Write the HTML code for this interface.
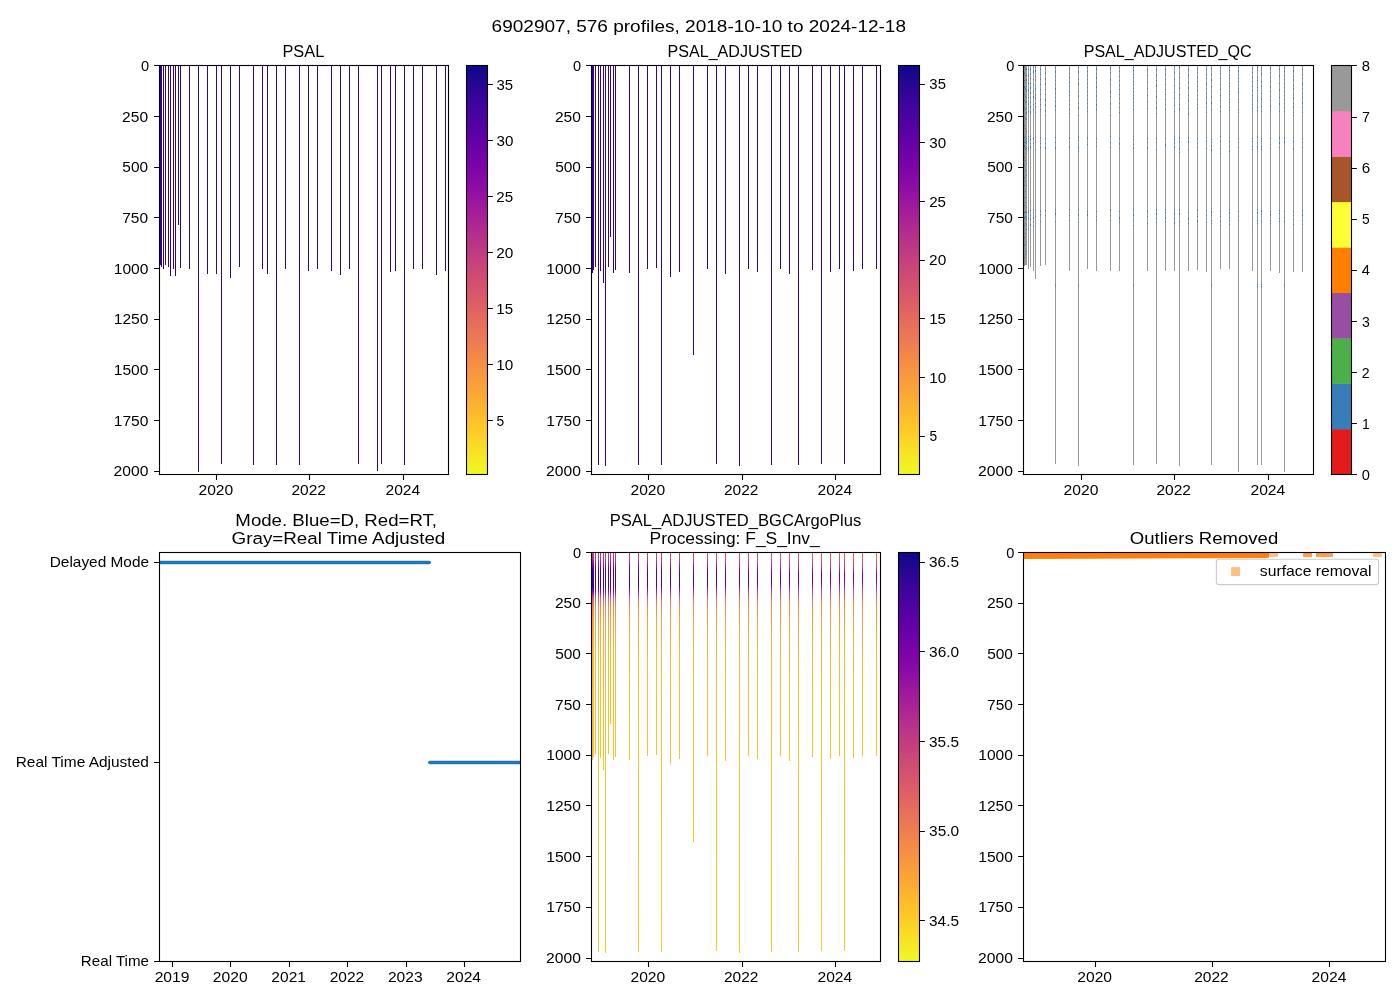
<!DOCTYPE html>
<html><head><meta charset="utf-8"><title>6902907 PSAL</title>
<style>html,body{margin:0;padding:0;background:#fff}svg{display:block;will-change:transform}</style></head>
<body>
<svg width="1400" height="1000" viewBox="0 0 1400 1000" font-family="'Liberation Sans', sans-serif" fill="#000">
<defs>
<linearGradient id="pl" x1="0" y1="0" x2="0" y2="1"><stop offset="0.00" stop-color="#0d0887"/><stop offset="0.05" stop-color="#2a0593"/><stop offset="0.10" stop-color="#41049d"/><stop offset="0.15" stop-color="#5601a4"/><stop offset="0.20" stop-color="#6a00a8"/><stop offset="0.25" stop-color="#7e03a8"/><stop offset="0.30" stop-color="#8f0da4"/><stop offset="0.35" stop-color="#a11b9b"/><stop offset="0.40" stop-color="#b12a90"/><stop offset="0.45" stop-color="#bf3984"/><stop offset="0.50" stop-color="#cc4778"/><stop offset="0.55" stop-color="#d6556d"/><stop offset="0.60" stop-color="#e16462"/><stop offset="0.65" stop-color="#ea7457"/><stop offset="0.70" stop-color="#f2844b"/><stop offset="0.75" stop-color="#f89540"/><stop offset="0.80" stop-color="#fca636"/><stop offset="0.85" stop-color="#feba2c"/><stop offset="0.90" stop-color="#fcce25"/><stop offset="0.95" stop-color="#f7e425"/><stop offset="1.00" stop-color="#f0f921"/></linearGradient>
<linearGradient id="g0" gradientUnits="userSpaceOnUse" x1="0" y1="552.5" x2="0" y2="961.5"><stop offset="0.0000" stop-color="#c43e7f"/><stop offset="0.0159" stop-color="#b6308b"/><stop offset="0.0306" stop-color="#8808a6"/><stop offset="0.0453" stop-color="#41049d"/><stop offset="0.0843" stop-color="#38049a"/><stop offset="0.0965" stop-color="#8f0da4"/><stop offset="0.1075" stop-color="#cc4778"/><stop offset="0.1210" stop-color="#e87059"/><stop offset="0.1357" stop-color="#f58b47"/><stop offset="0.1650" stop-color="#fb9f3a"/><stop offset="0.2384" stop-color="#feb72d"/><stop offset="0.3606" stop-color="#fec029"/><stop offset="1.0000" stop-color="#fdc527"/></linearGradient>
<linearGradient id="g1" gradientUnits="userSpaceOnUse" x1="0" y1="552.5" x2="0" y2="961.5"><stop offset="0.0000" stop-color="#c43e7f"/><stop offset="0.0160" stop-color="#b6308b"/><stop offset="0.0306" stop-color="#8808a6"/><stop offset="0.0453" stop-color="#41049d"/><stop offset="0.0842" stop-color="#38049a"/><stop offset="0.0965" stop-color="#8f0da4"/><stop offset="0.1075" stop-color="#cc4778"/><stop offset="0.1209" stop-color="#e87059"/><stop offset="0.1356" stop-color="#f58b47"/><stop offset="0.1650" stop-color="#fb9f3a"/><stop offset="0.2384" stop-color="#feb72d"/><stop offset="0.3606" stop-color="#fec029"/><stop offset="1.0000" stop-color="#fdc527"/></linearGradient>
<linearGradient id="g2" gradientUnits="userSpaceOnUse" x1="0" y1="552.5" x2="0" y2="961.5"><stop offset="0.0000" stop-color="#c43e7f"/><stop offset="0.0161" stop-color="#b6308b"/><stop offset="0.0307" stop-color="#8a09a5"/><stop offset="0.0453" stop-color="#43039e"/><stop offset="0.0841" stop-color="#3a049a"/><stop offset="0.0963" stop-color="#910ea3"/><stop offset="0.1074" stop-color="#cc4778"/><stop offset="0.1209" stop-color="#e87059"/><stop offset="0.1356" stop-color="#f58b47"/><stop offset="0.1650" stop-color="#fb9f3a"/><stop offset="0.2384" stop-color="#feb72d"/><stop offset="0.3606" stop-color="#fec029"/><stop offset="1.0000" stop-color="#fdc527"/></linearGradient>
<linearGradient id="g3" gradientUnits="userSpaceOnUse" x1="0" y1="552.5" x2="0" y2="961.5"><stop offset="0.0000" stop-color="#c5407e"/><stop offset="0.0162" stop-color="#b7318a"/><stop offset="0.0309" stop-color="#8a09a5"/><stop offset="0.0454" stop-color="#43039e"/><stop offset="0.0839" stop-color="#3a049a"/><stop offset="0.0962" stop-color="#910ea3"/><stop offset="0.1072" stop-color="#cc4778"/><stop offset="0.1207" stop-color="#e87059"/><stop offset="0.1355" stop-color="#f58b47"/><stop offset="0.1650" stop-color="#fb9f3a"/><stop offset="0.2384" stop-color="#feb72d"/><stop offset="0.3606" stop-color="#fec029"/><stop offset="1.0000" stop-color="#fdc527"/></linearGradient>
<linearGradient id="g4" gradientUnits="userSpaceOnUse" x1="0" y1="552.5" x2="0" y2="961.5"><stop offset="0.0000" stop-color="#c5407e"/><stop offset="0.0163" stop-color="#b7318a"/><stop offset="0.0309" stop-color="#8a09a5"/><stop offset="0.0455" stop-color="#43039e"/><stop offset="0.0837" stop-color="#3a049a"/><stop offset="0.0960" stop-color="#910ea3"/><stop offset="0.1071" stop-color="#cc4778"/><stop offset="0.1206" stop-color="#e87059"/><stop offset="0.1355" stop-color="#f58b47"/><stop offset="0.1650" stop-color="#fb9f3a"/><stop offset="0.2384" stop-color="#feb72d"/><stop offset="0.3606" stop-color="#fec029"/><stop offset="1.0000" stop-color="#fdc527"/></linearGradient>
<linearGradient id="g5" gradientUnits="userSpaceOnUse" x1="0" y1="552.5" x2="0" y2="961.5"><stop offset="0.0000" stop-color="#c6417d"/><stop offset="0.0164" stop-color="#b7318a"/><stop offset="0.0311" stop-color="#8a09a5"/><stop offset="0.0455" stop-color="#44039e"/><stop offset="0.0835" stop-color="#3c049b"/><stop offset="0.0959" stop-color="#910ea3"/><stop offset="0.1070" stop-color="#cc4778"/><stop offset="0.1205" stop-color="#e87059"/><stop offset="0.1354" stop-color="#f58b47"/><stop offset="0.1650" stop-color="#fb9f3a"/><stop offset="0.2384" stop-color="#feb72d"/><stop offset="0.3606" stop-color="#fec029"/><stop offset="1.0000" stop-color="#fdc527"/></linearGradient>
<linearGradient id="g6" gradientUnits="userSpaceOnUse" x1="0" y1="552.5" x2="0" y2="961.5"><stop offset="0.0000" stop-color="#c6417d"/><stop offset="0.0165" stop-color="#b83289"/><stop offset="0.0312" stop-color="#8b0aa5"/><stop offset="0.0456" stop-color="#44039e"/><stop offset="0.0834" stop-color="#3c049b"/><stop offset="0.0957" stop-color="#910ea3"/><stop offset="0.1069" stop-color="#cc4778"/><stop offset="0.1204" stop-color="#e87059"/><stop offset="0.1353" stop-color="#f58b47"/><stop offset="0.1650" stop-color="#fb9f3a"/><stop offset="0.2384" stop-color="#feb72d"/><stop offset="0.3606" stop-color="#fec029"/><stop offset="1.0000" stop-color="#fdc527"/></linearGradient>
<linearGradient id="g7" gradientUnits="userSpaceOnUse" x1="0" y1="552.5" x2="0" y2="961.5"><stop offset="0.0000" stop-color="#c6417d"/><stop offset="0.0166" stop-color="#b83289"/><stop offset="0.0313" stop-color="#8b0aa5"/><stop offset="0.0457" stop-color="#44039e"/><stop offset="0.0832" stop-color="#3c049b"/><stop offset="0.0956" stop-color="#920fa3"/><stop offset="0.1067" stop-color="#cc4778"/><stop offset="0.1203" stop-color="#e87059"/><stop offset="0.1353" stop-color="#f58b47"/><stop offset="0.1650" stop-color="#fb9f3a"/><stop offset="0.2384" stop-color="#feb72d"/><stop offset="0.3606" stop-color="#fec029"/><stop offset="1.0000" stop-color="#fdc527"/></linearGradient>
<linearGradient id="g8" gradientUnits="userSpaceOnUse" x1="0" y1="552.5" x2="0" y2="961.5"><stop offset="0.0000" stop-color="#c7427c"/><stop offset="0.0167" stop-color="#b83289"/><stop offset="0.0314" stop-color="#8b0aa5"/><stop offset="0.0457" stop-color="#44039e"/><stop offset="0.0831" stop-color="#3e049c"/><stop offset="0.0955" stop-color="#920fa3"/><stop offset="0.1066" stop-color="#cc4778"/><stop offset="0.1202" stop-color="#e87059"/><stop offset="0.1352" stop-color="#f58b47"/><stop offset="0.1650" stop-color="#fb9f3a"/><stop offset="0.2384" stop-color="#feb72d"/><stop offset="0.3606" stop-color="#fec029"/><stop offset="1.0000" stop-color="#fdc527"/></linearGradient>
<linearGradient id="g9" gradientUnits="userSpaceOnUse" x1="0" y1="552.5" x2="0" y2="961.5"><stop offset="0.0000" stop-color="#c7427c"/><stop offset="0.0168" stop-color="#b83289"/><stop offset="0.0315" stop-color="#8d0ba5"/><stop offset="0.0458" stop-color="#46039f"/><stop offset="0.0829" stop-color="#3e049c"/><stop offset="0.0953" stop-color="#920fa3"/><stop offset="0.1065" stop-color="#cc4778"/><stop offset="0.1201" stop-color="#e87059"/><stop offset="0.1351" stop-color="#f58b47"/><stop offset="0.1650" stop-color="#fb9f3a"/><stop offset="0.2384" stop-color="#feb72d"/><stop offset="0.3606" stop-color="#fec029"/><stop offset="1.0000" stop-color="#fdc527"/></linearGradient>
<linearGradient id="g10" gradientUnits="userSpaceOnUse" x1="0" y1="552.5" x2="0" y2="961.5"><stop offset="0.0000" stop-color="#c7427c"/><stop offset="0.0169" stop-color="#ba3388"/><stop offset="0.0316" stop-color="#8d0ba5"/><stop offset="0.0458" stop-color="#46039f"/><stop offset="0.0827" stop-color="#3e049c"/><stop offset="0.0952" stop-color="#920fa3"/><stop offset="0.1064" stop-color="#cc4778"/><stop offset="0.1200" stop-color="#e87059"/><stop offset="0.1351" stop-color="#f58b47"/><stop offset="0.1650" stop-color="#fb9f3a"/><stop offset="0.2384" stop-color="#feb72d"/><stop offset="0.3606" stop-color="#fec029"/><stop offset="1.0000" stop-color="#fdc527"/></linearGradient>
<linearGradient id="g11" gradientUnits="userSpaceOnUse" x1="0" y1="552.5" x2="0" y2="961.5"><stop offset="0.0000" stop-color="#ca457a"/><stop offset="0.0175" stop-color="#bb3488"/><stop offset="0.0322" stop-color="#8e0ca4"/><stop offset="0.0462" stop-color="#4903a0"/><stop offset="0.0818" stop-color="#41049d"/><stop offset="0.0943" stop-color="#9410a2"/><stop offset="0.1057" stop-color="#cc4778"/><stop offset="0.1194" stop-color="#e87059"/><stop offset="0.1347" stop-color="#f58b47"/><stop offset="0.1650" stop-color="#fb9f3a"/><stop offset="0.2384" stop-color="#feb72d"/><stop offset="0.3606" stop-color="#fec029"/><stop offset="1.0000" stop-color="#fdc527"/></linearGradient>
<linearGradient id="g12" gradientUnits="userSpaceOnUse" x1="0" y1="552.5" x2="0" y2="961.5"><stop offset="0.0000" stop-color="#cb4679"/><stop offset="0.0179" stop-color="#bc3587"/><stop offset="0.0326" stop-color="#8f0da4"/><stop offset="0.0464" stop-color="#4b03a1"/><stop offset="0.0812" stop-color="#44039e"/><stop offset="0.0938" stop-color="#9511a1"/><stop offset="0.1052" stop-color="#cc4778"/><stop offset="0.1190" stop-color="#e87059"/><stop offset="0.1345" stop-color="#f58b47"/><stop offset="0.1650" stop-color="#fb9f3a"/><stop offset="0.2384" stop-color="#feb72d"/><stop offset="0.3606" stop-color="#fec029"/><stop offset="1.0000" stop-color="#fdc527"/></linearGradient>
<linearGradient id="g13" gradientUnits="userSpaceOnUse" x1="0" y1="552.5" x2="0" y2="961.5"><stop offset="0.0000" stop-color="#cc4778"/><stop offset="0.0183" stop-color="#bd3786"/><stop offset="0.0329" stop-color="#910ea3"/><stop offset="0.0467" stop-color="#4c02a1"/><stop offset="0.0806" stop-color="#46039f"/><stop offset="0.0933" stop-color="#9511a1"/><stop offset="0.1047" stop-color="#cc4778"/><stop offset="0.1187" stop-color="#e87059"/><stop offset="0.1343" stop-color="#f58b47"/><stop offset="0.1650" stop-color="#fb9f3a"/><stop offset="0.2384" stop-color="#feb72d"/><stop offset="0.3606" stop-color="#fec029"/><stop offset="1.0000" stop-color="#fdc527"/></linearGradient>
<linearGradient id="g14" gradientUnits="userSpaceOnUse" x1="0" y1="552.5" x2="0" y2="961.5"><stop offset="0.0000" stop-color="#cd4a76"/><stop offset="0.0186" stop-color="#be3885"/><stop offset="0.0333" stop-color="#920fa3"/><stop offset="0.0469" stop-color="#4e02a2"/><stop offset="0.0800" stop-color="#48039f"/><stop offset="0.0927" stop-color="#9613a1"/><stop offset="0.1043" stop-color="#cc4778"/><stop offset="0.1183" stop-color="#e87059"/><stop offset="0.1340" stop-color="#f58b47"/><stop offset="0.1650" stop-color="#fb9f3a"/><stop offset="0.2384" stop-color="#feb72d"/><stop offset="0.3606" stop-color="#fec029"/><stop offset="1.0000" stop-color="#fdc527"/></linearGradient>
<linearGradient id="g15" gradientUnits="userSpaceOnUse" x1="0" y1="552.5" x2="0" y2="961.5"><stop offset="0.0000" stop-color="#cd4a76"/><stop offset="0.0189" stop-color="#be3885"/><stop offset="0.0335" stop-color="#9410a2"/><stop offset="0.0470" stop-color="#5002a2"/><stop offset="0.0796" stop-color="#4903a0"/><stop offset="0.0924" stop-color="#9613a1"/><stop offset="0.1040" stop-color="#cc4778"/><stop offset="0.1181" stop-color="#e87059"/><stop offset="0.1339" stop-color="#f58b47"/><stop offset="0.1650" stop-color="#fb9f3a"/><stop offset="0.2384" stop-color="#feb72d"/><stop offset="0.3606" stop-color="#fec029"/><stop offset="1.0000" stop-color="#fdc527"/></linearGradient>
<linearGradient id="g16" gradientUnits="userSpaceOnUse" x1="0" y1="552.5" x2="0" y2="961.5"><stop offset="0.0000" stop-color="#cf4c74"/><stop offset="0.0192" stop-color="#bf3984"/><stop offset="0.0339" stop-color="#9511a1"/><stop offset="0.0472" stop-color="#5102a3"/><stop offset="0.0790" stop-color="#4b03a1"/><stop offset="0.0919" stop-color="#9814a0"/><stop offset="0.1036" stop-color="#cc4778"/><stop offset="0.1177" stop-color="#e87059"/><stop offset="0.1337" stop-color="#f58b47"/><stop offset="0.1650" stop-color="#fb9f3a"/><stop offset="0.2384" stop-color="#feb72d"/><stop offset="0.3606" stop-color="#fec029"/><stop offset="1.0000" stop-color="#fdc527"/></linearGradient>
<linearGradient id="g17" gradientUnits="userSpaceOnUse" x1="0" y1="552.5" x2="0" y2="961.5"><stop offset="0.0000" stop-color="#d04d73"/><stop offset="0.0196" stop-color="#c03a83"/><stop offset="0.0343" stop-color="#9613a1"/><stop offset="0.0475" stop-color="#5302a3"/><stop offset="0.0784" stop-color="#4c02a1"/><stop offset="0.0914" stop-color="#99159f"/><stop offset="0.1031" stop-color="#cc4778"/><stop offset="0.1173" stop-color="#e87059"/><stop offset="0.1335" stop-color="#f58b47"/><stop offset="0.1650" stop-color="#fb9f3a"/><stop offset="0.2384" stop-color="#feb72d"/><stop offset="0.3606" stop-color="#fec029"/><stop offset="1.0000" stop-color="#fdc527"/></linearGradient>
<linearGradient id="g18" gradientUnits="userSpaceOnUse" x1="0" y1="552.5" x2="0" y2="961.5"><stop offset="0.0000" stop-color="#d24f71"/><stop offset="0.0202" stop-color="#c23c81"/><stop offset="0.0349" stop-color="#9814a0"/><stop offset="0.0478" stop-color="#5601a4"/><stop offset="0.0774" stop-color="#5002a2"/><stop offset="0.0905" stop-color="#9a169f"/><stop offset="0.1024" stop-color="#cc4778"/><stop offset="0.1167" stop-color="#e87059"/><stop offset="0.1331" stop-color="#f58b47"/><stop offset="0.1650" stop-color="#fb9f3a"/><stop offset="0.2384" stop-color="#feb72d"/><stop offset="0.3606" stop-color="#fec029"/><stop offset="1.0000" stop-color="#fdc527"/></linearGradient>
<linearGradient id="g19" gradientUnits="userSpaceOnUse" x1="0" y1="552.5" x2="0" y2="961.5"><stop offset="0.0000" stop-color="#d45270"/><stop offset="0.0208" stop-color="#c33d80"/><stop offset="0.0355" stop-color="#9a169f"/><stop offset="0.0482" stop-color="#5801a4"/><stop offset="0.0765" stop-color="#5302a3"/><stop offset="0.0897" stop-color="#9c179e"/><stop offset="0.1017" stop-color="#cc4778"/><stop offset="0.1161" stop-color="#e87059"/><stop offset="0.1328" stop-color="#f58b47"/><stop offset="0.1650" stop-color="#fb9f3a"/><stop offset="0.2384" stop-color="#feb72d"/><stop offset="0.3606" stop-color="#fec029"/><stop offset="1.0000" stop-color="#fdc527"/></linearGradient>
<linearGradient id="g20" gradientUnits="userSpaceOnUse" x1="0" y1="552.5" x2="0" y2="961.5"><stop offset="0.0000" stop-color="#d5546e"/><stop offset="0.0212" stop-color="#c43e7f"/><stop offset="0.0358" stop-color="#9a169f"/><stop offset="0.0484" stop-color="#5b01a5"/><stop offset="0.0759" stop-color="#5601a4"/><stop offset="0.0892" stop-color="#9c179e"/><stop offset="0.1012" stop-color="#cc4778"/><stop offset="0.1157" stop-color="#e87059"/><stop offset="0.1325" stop-color="#f58b47"/><stop offset="0.1650" stop-color="#fb9f3a"/><stop offset="0.2384" stop-color="#feb72d"/><stop offset="0.3606" stop-color="#fec029"/><stop offset="1.0000" stop-color="#fdc527"/></linearGradient>
<linearGradient id="g21" gradientUnits="userSpaceOnUse" x1="0" y1="552.5" x2="0" y2="961.5"><stop offset="0.0000" stop-color="#d6556d"/><stop offset="0.0216" stop-color="#c5407e"/><stop offset="0.0362" stop-color="#9c179e"/><stop offset="0.0486" stop-color="#5c01a6"/><stop offset="0.0753" stop-color="#5801a4"/><stop offset="0.0886" stop-color="#9d189d"/><stop offset="0.1008" stop-color="#cc4778"/><stop offset="0.1154" stop-color="#e87059"/><stop offset="0.1323" stop-color="#f58b47"/><stop offset="0.1650" stop-color="#fb9f3a"/><stop offset="0.2384" stop-color="#feb72d"/><stop offset="0.3606" stop-color="#fec029"/><stop offset="1.0000" stop-color="#fdc527"/></linearGradient>
<linearGradient id="g22" gradientUnits="userSpaceOnUse" x1="0" y1="552.5" x2="0" y2="961.5"><stop offset="0.0000" stop-color="#d8576b"/><stop offset="0.0222" stop-color="#c7427c"/><stop offset="0.0368" stop-color="#9e199d"/><stop offset="0.0490" stop-color="#5e01a6"/><stop offset="0.0743" stop-color="#5b01a5"/><stop offset="0.0878" stop-color="#9e199d"/><stop offset="0.1001" stop-color="#cc4778"/><stop offset="0.1148" stop-color="#e87059"/><stop offset="0.1319" stop-color="#f58b47"/><stop offset="0.1650" stop-color="#fb9f3a"/><stop offset="0.2384" stop-color="#feb72d"/><stop offset="0.3606" stop-color="#fec029"/><stop offset="1.0000" stop-color="#fdc527"/></linearGradient>
<linearGradient id="g23" gradientUnits="userSpaceOnUse" x1="0" y1="552.5" x2="0" y2="961.5"><stop offset="0.0000" stop-color="#d9586a"/><stop offset="0.0225" stop-color="#c8437b"/><stop offset="0.0372" stop-color="#a01a9c"/><stop offset="0.0492" stop-color="#6100a7"/><stop offset="0.0737" stop-color="#5c01a6"/><stop offset="0.0873" stop-color="#9e199d"/><stop offset="0.0996" stop-color="#cc4778"/><stop offset="0.1144" stop-color="#e87059"/><stop offset="0.1317" stop-color="#f58b47"/><stop offset="0.1650" stop-color="#fb9f3a"/><stop offset="0.2384" stop-color="#feb72d"/><stop offset="0.3606" stop-color="#fec029"/><stop offset="1.0000" stop-color="#fdc527"/></linearGradient>
<linearGradient id="g24" gradientUnits="userSpaceOnUse" x1="0" y1="552.5" x2="0" y2="961.5"><stop offset="0.0000" stop-color="#da5b69"/><stop offset="0.0229" stop-color="#c9447a"/><stop offset="0.0376" stop-color="#a11b9b"/><stop offset="0.0494" stop-color="#6300a7"/><stop offset="0.0731" stop-color="#6001a6"/><stop offset="0.0867" stop-color="#a01a9c"/><stop offset="0.0992" stop-color="#cc4778"/><stop offset="0.1140" stop-color="#e87059"/><stop offset="0.1315" stop-color="#f58b47"/><stop offset="0.1650" stop-color="#fb9f3a"/><stop offset="0.2384" stop-color="#feb72d"/><stop offset="0.3606" stop-color="#fec029"/><stop offset="1.0000" stop-color="#fdc527"/></linearGradient>
<linearGradient id="g25" gradientUnits="userSpaceOnUse" x1="0" y1="552.5" x2="0" y2="961.5"><stop offset="0.0000" stop-color="#dc5d67"/><stop offset="0.0235" stop-color="#ca457a"/><stop offset="0.0382" stop-color="#a21d9a"/><stop offset="0.0498" stop-color="#6400a7"/><stop offset="0.0722" stop-color="#6100a7"/><stop offset="0.0859" stop-color="#a11b9b"/><stop offset="0.0984" stop-color="#cc4778"/><stop offset="0.1134" stop-color="#e87059"/><stop offset="0.1311" stop-color="#f58b47"/><stop offset="0.1650" stop-color="#fb9f3a"/><stop offset="0.2384" stop-color="#feb72d"/><stop offset="0.3606" stop-color="#fec029"/><stop offset="1.0000" stop-color="#fdc527"/></linearGradient>
<linearGradient id="g26" gradientUnits="userSpaceOnUse" x1="0" y1="552.5" x2="0" y2="961.5"><stop offset="0.0000" stop-color="#dd5e66"/><stop offset="0.0239" stop-color="#cb4679"/><stop offset="0.0386" stop-color="#a31e9a"/><stop offset="0.0500" stop-color="#6700a8"/><stop offset="0.0716" stop-color="#6400a7"/><stop offset="0.0854" stop-color="#a21d9a"/><stop offset="0.0980" stop-color="#cc4778"/><stop offset="0.1130" stop-color="#e87059"/><stop offset="0.1309" stop-color="#f58b47"/><stop offset="0.1650" stop-color="#fb9f3a"/><stop offset="0.2384" stop-color="#feb72d"/><stop offset="0.3606" stop-color="#fec029"/><stop offset="1.0000" stop-color="#fdc527"/></linearGradient>
<linearGradient id="g27" gradientUnits="userSpaceOnUse" x1="0" y1="552.5" x2="0" y2="961.5"><stop offset="0.0000" stop-color="#de6164"/><stop offset="0.0243" stop-color="#cc4778"/><stop offset="0.0389" stop-color="#a51f99"/><stop offset="0.0503" stop-color="#6900a8"/><stop offset="0.0710" stop-color="#6600a7"/><stop offset="0.0849" stop-color="#a21d9a"/><stop offset="0.0975" stop-color="#cc4778"/><stop offset="0.1127" stop-color="#e87059"/><stop offset="0.1307" stop-color="#f58b47"/><stop offset="0.1650" stop-color="#fb9f3a"/><stop offset="0.2384" stop-color="#feb72d"/><stop offset="0.3606" stop-color="#fec029"/><stop offset="1.0000" stop-color="#fdc527"/></linearGradient>
<linearGradient id="g28" gradientUnits="userSpaceOnUse" x1="0" y1="552.5" x2="0" y2="961.5"><stop offset="0.0000" stop-color="#df6263"/><stop offset="0.0246" stop-color="#cc4977"/><stop offset="0.0393" stop-color="#a62098"/><stop offset="0.0505" stop-color="#6a00a8"/><stop offset="0.0703" stop-color="#6700a8"/><stop offset="0.0843" stop-color="#a31e9a"/><stop offset="0.0971" stop-color="#cc4778"/><stop offset="0.1123" stop-color="#e87059"/><stop offset="0.1304" stop-color="#f58b47"/><stop offset="0.1650" stop-color="#fb9f3a"/><stop offset="0.2384" stop-color="#feb72d"/><stop offset="0.3606" stop-color="#fec029"/><stop offset="1.0000" stop-color="#fdc527"/></linearGradient>
<linearGradient id="g29" gradientUnits="userSpaceOnUse" x1="0" y1="552.5" x2="0" y2="961.5"><stop offset="0.0000" stop-color="#e16462"/><stop offset="0.0252" stop-color="#ce4b75"/><stop offset="0.0399" stop-color="#a82296"/><stop offset="0.0508" stop-color="#6e00a8"/><stop offset="0.0694" stop-color="#6a00a8"/><stop offset="0.0835" stop-color="#a51f99"/><stop offset="0.0964" stop-color="#cc4778"/><stop offset="0.1117" stop-color="#e87059"/><stop offset="0.1301" stop-color="#f58b47"/><stop offset="0.1650" stop-color="#fb9f3a"/><stop offset="0.2384" stop-color="#feb72d"/><stop offset="0.3606" stop-color="#fec029"/><stop offset="1.0000" stop-color="#fdc527"/></linearGradient>
<linearGradient id="g30" gradientUnits="userSpaceOnUse" x1="0" y1="552.5" x2="0" y2="961.5"><stop offset="0.0000" stop-color="#e26561"/><stop offset="0.0256" stop-color="#ce4b75"/><stop offset="0.0403" stop-color="#aa2395"/><stop offset="0.0511" stop-color="#6f00a8"/><stop offset="0.0688" stop-color="#6e00a8"/><stop offset="0.0830" stop-color="#a62098"/><stop offset="0.0959" stop-color="#cc4778"/><stop offset="0.1113" stop-color="#e87059"/><stop offset="0.1299" stop-color="#f58b47"/><stop offset="0.1650" stop-color="#fb9f3a"/><stop offset="0.2384" stop-color="#feb72d"/><stop offset="0.3606" stop-color="#fec029"/><stop offset="1.0000" stop-color="#fdc527"/></linearGradient>
<linearGradient id="g31" gradientUnits="userSpaceOnUse" x1="0" y1="552.5" x2="0" y2="961.5"><stop offset="0.0000" stop-color="#e3685f"/><stop offset="0.0260" stop-color="#cf4c74"/><stop offset="0.0407" stop-color="#ab2494"/><stop offset="0.0513" stop-color="#7100a8"/><stop offset="0.0682" stop-color="#6f00a8"/><stop offset="0.0824" stop-color="#a62098"/><stop offset="0.0954" stop-color="#cc4778"/><stop offset="0.1109" stop-color="#e87059"/><stop offset="0.1296" stop-color="#f58b47"/><stop offset="0.1650" stop-color="#fb9f3a"/><stop offset="0.2384" stop-color="#feb72d"/><stop offset="0.3606" stop-color="#fec029"/><stop offset="1.0000" stop-color="#fdc527"/></linearGradient>
<linearGradient id="g32" gradientUnits="userSpaceOnUse" x1="0" y1="552.5" x2="0" y2="961.5"><stop offset="0.0000" stop-color="#e4695e"/><stop offset="0.0264" stop-color="#d04d73"/><stop offset="0.0411" stop-color="#ac2694"/><stop offset="0.0515" stop-color="#7201a8"/><stop offset="0.0676" stop-color="#7100a8"/><stop offset="0.0819" stop-color="#a72197"/><stop offset="0.0950" stop-color="#cc4778"/><stop offset="0.1105" stop-color="#e87059"/><stop offset="0.1294" stop-color="#f58b47"/><stop offset="0.1650" stop-color="#fb9f3a"/><stop offset="0.2384" stop-color="#feb72d"/><stop offset="0.3606" stop-color="#fec029"/><stop offset="1.0000" stop-color="#fdc527"/></linearGradient>
<linearGradient id="g33" gradientUnits="userSpaceOnUse" x1="0" y1="552.5" x2="0" y2="961.5"><stop offset="0.0000" stop-color="#e56a5d"/><stop offset="0.0266" stop-color="#d14e72"/><stop offset="0.0413" stop-color="#ac2694"/><stop offset="0.0517" stop-color="#7201a8"/><stop offset="0.0672" stop-color="#7201a8"/><stop offset="0.0816" stop-color="#a72197"/><stop offset="0.0947" stop-color="#cc4778"/><stop offset="0.1103" stop-color="#e87059"/><stop offset="0.1293" stop-color="#f58b47"/><stop offset="0.1650" stop-color="#fb9f3a"/><stop offset="0.2384" stop-color="#feb72d"/><stop offset="0.3606" stop-color="#fec029"/><stop offset="1.0000" stop-color="#fdc527"/></linearGradient>
<linearGradient id="g34" gradientUnits="userSpaceOnUse" x1="0" y1="552.5" x2="0" y2="961.5"><stop offset="0.0000" stop-color="#e56b5d"/><stop offset="0.0270" stop-color="#d24f71"/><stop offset="0.0416" stop-color="#ad2793"/><stop offset="0.0519" stop-color="#7501a8"/><stop offset="0.0666" stop-color="#7401a8"/><stop offset="0.0811" stop-color="#a82296"/><stop offset="0.0943" stop-color="#cc4778"/><stop offset="0.1099" stop-color="#e87059"/><stop offset="0.1290" stop-color="#f58b47"/><stop offset="0.1650" stop-color="#fb9f3a"/><stop offset="0.2384" stop-color="#feb72d"/><stop offset="0.3606" stop-color="#fec029"/><stop offset="1.0000" stop-color="#fdc527"/></linearGradient>
<linearGradient id="g35" gradientUnits="userSpaceOnUse" x1="0" y1="552.5" x2="0" y2="961.5"><stop offset="0.0000" stop-color="#e76e5b"/><stop offset="0.0274" stop-color="#d35171"/><stop offset="0.0420" stop-color="#ae2892"/><stop offset="0.0521" stop-color="#7701a8"/><stop offset="0.0660" stop-color="#7501a8"/><stop offset="0.0805" stop-color="#aa2395"/><stop offset="0.0938" stop-color="#cc4778"/><stop offset="0.1096" stop-color="#e87059"/><stop offset="0.1288" stop-color="#f58b47"/><stop offset="0.1650" stop-color="#fb9f3a"/><stop offset="0.2384" stop-color="#feb72d"/><stop offset="0.3606" stop-color="#fec029"/><stop offset="1.0000" stop-color="#fdc527"/></linearGradient>
<linearGradient id="g36" gradientUnits="userSpaceOnUse" x1="0" y1="552.5" x2="0" y2="961.5"><stop offset="0.0000" stop-color="#e87059"/><stop offset="0.0279" stop-color="#d45270"/><stop offset="0.0426" stop-color="#b02991"/><stop offset="0.0525" stop-color="#7801a8"/><stop offset="0.0651" stop-color="#7801a8"/><stop offset="0.0797" stop-color="#aa2395"/><stop offset="0.0931" stop-color="#cc4778"/><stop offset="0.1090" stop-color="#e87059"/><stop offset="0.1285" stop-color="#f58b47"/><stop offset="0.1650" stop-color="#fb9f3a"/><stop offset="0.2384" stop-color="#feb72d"/><stop offset="0.3606" stop-color="#fec029"/><stop offset="1.0000" stop-color="#fdc527"/></linearGradient>
</defs>
<rect width="1400" height="1000" fill="#fff"/>
<g stroke="#2f0495" stroke-width="1" shape-rendering="crispEdges">
<path d="M160.5 65.5V265.0"/>
<path d="M161.5 65.5V266.6"/>
<path d="M163.5 65.5V268.8"/>
<path d="M165.5 65.5V264.7"/>
<path d="M168.5 65.5V266.8"/>
<path d="M170.5 65.5V275.7"/>
<path d="M173.5 65.5V268.8"/>
<path d="M175.5 65.5V275.7"/>
<path d="M178.5 65.5V224.9"/>
<path d="M180.5 65.5V267.7"/>
<path d="M189.5 65.5V268.8"/>
<path d="M198.5 65.5V471.8"/>
<path d="M207.5 65.5V273.8"/>
<path d="M216.5 65.5V273.8"/>
<path d="M221.5 65.5V463.9"/>
<path d="M230.5 65.5V277.6"/>
<path d="M239.5 65.5V266.8"/>
<path d="M253.5 65.5V464.9"/>
<path d="M262.5 65.5V268.8"/>
<path d="M267.5 65.5V273.8"/>
<path d="M276.5 65.5V464.9"/>
<path d="M285.5 65.5V268.8"/>
<path d="M299.5 65.5V464.9"/>
<path d="M308.5 65.5V270.7"/>
<path d="M317.5 65.5V268.8"/>
<path d="M331.5 65.5V270.7"/>
<path d="M340.5 65.5V274.8"/>
<path d="M349.5 65.5V268.8"/>
<path d="M358.5 65.5V463.9"/>
<path d="M377.5 65.5V470.7"/>
<path d="M381.5 65.5V463.9"/>
<path d="M390.5 65.5V271.8"/>
<path d="M395.5 65.5V270.7"/>
<path d="M404.5 65.5V464.9"/>
<path d="M413.5 65.5V268.8"/>
<path d="M422.5 65.5V268.8"/>
<path d="M436.5 65.5V274.8"/>
<path d="M445.5 65.5V270.7"/>
<path d="M592.5 65.5V272.7"/>
<path d="M593.5 65.5V269.8"/>
<path d="M595.5 65.5V266.8"/>
<path d="M598.5 65.5V464.9"/>
<path d="M600.5 65.5V270.7"/>
<path d="M603.5 65.5V282.7"/>
<path d="M605.5 65.5V465.8"/>
<path d="M608.5 65.5V266.8"/>
<path d="M610.5 65.5V236.8"/>
<path d="M613.5 65.5V272.7"/>
<path d="M615.5 65.5V269.8"/>
<path d="M629.5 65.5V272.7"/>
<path d="M638.5 65.5V464.9"/>
<path d="M647.5 65.5V268.8"/>
<path d="M656.5 65.5V267.7"/>
<path d="M661.5 65.5V464.9"/>
<path d="M670.5 65.5V276.8"/>
<path d="M679.5 65.5V271.8"/>
<path d="M693.5 65.5V354.7"/>
<path d="M707.5 65.5V268.8"/>
<path d="M716.5 65.5V463.9"/>
<path d="M725.5 65.5V273.8"/>
<path d="M739.5 65.5V465.8"/>
<path d="M748.5 65.5V268.8"/>
<path d="M757.5 65.5V271.8"/>
<path d="M771.5 65.5V464.9"/>
<path d="M780.5 65.5V268.8"/>
<path d="M789.5 65.5V273.8"/>
<path d="M798.5 65.5V464.9"/>
<path d="M812.5 65.5V269.8"/>
<path d="M821.5 65.5V463.9"/>
<path d="M830.5 65.5V271.8"/>
<path d="M839.5 65.5V268.8"/>
<path d="M844.5 65.5V463.9"/>
<path d="M853.5 65.5V270.7"/>
<path d="M862.5 65.5V268.8"/>
<path d="M876.5 65.5V268.8"/>
</g>
<g stroke="#999" stroke-width="1" shape-rendering="crispEdges">
<path d="M1024.5 65.5V266.0"/>
<path d="M1025.5 65.5V265.0"/>
<path d="M1026.5 65.5V264.5"/>
<path d="M1028.5 65.5V268.8"/>
<path d="M1030.5 65.5V266.8"/>
<path d="M1033.5 65.5V270.7"/>
<path d="M1035.5 65.5V278.7"/>
<path d="M1040.5 65.5V265.8"/>
<path d="M1045.5 65.5V264.7"/>
<path d="M1055.5 65.5V463.9"/>
<path d="M1069.5 65.5V270.7"/>
<path d="M1078.5 65.5V465.8"/>
<path d="M1087.5 65.5V268.8"/>
<path d="M1096.5 65.5V270.7"/>
<path d="M1110.5 65.5V270.7"/>
<path d="M1119.5 65.5V270.7"/>
<path d="M1133.5 65.5V464.9"/>
<path d="M1147.5 65.5V270.7"/>
<path d="M1156.5 65.5V463.9"/>
<path d="M1165.5 65.5V270.7"/>
<path d="M1174.5 65.5V270.7"/>
<path d="M1179.5 65.5V465.8"/>
<path d="M1188.5 65.5V270.7"/>
<path d="M1197.5 65.5V269.8"/>
<path d="M1206.5 65.5V271.8"/>
<path d="M1211.5 65.5V464.9"/>
<path d="M1220.5 65.5V268.8"/>
<path d="M1229.5 65.5V268.8"/>
<path d="M1238.5 65.5V471.8"/>
<path d="M1252.5 65.5V270.7"/>
<path d="M1257.5 65.5V464.9"/>
<path d="M1261.5 65.5V464.9"/>
<path d="M1270.5 65.5V270.7"/>
<path d="M1279.5 65.5V272.7"/>
<path d="M1284.5 65.5V471.8"/>
<path d="M1293.5 65.5V271.8"/>
<path d="M1302.5 65.5V271.8"/>
</g>
<g stroke="#377eb8" stroke-width="1" shape-rendering="crispEdges">
<path d="M1024.5 66.7V113.0" stroke-dasharray="1 5 1.5 6"/>
<path d="M1024.5 137.3V150.2" stroke-dasharray="1 3.5 1 3"/>
<path d="M1024.5 211.6V225.0" stroke-dasharray="1.5 4 1.5 6"/>
<path d="M1024.5 117.3V264.0" stroke-dasharray="1 7 1 11"/>
<path d="M1025.5 68.6V114.9" stroke-dasharray="1 5 1.5 6"/>
<path d="M1025.5 135.6V149.2" stroke-dasharray="1 5 1 4"/>
<path d="M1025.5 210.9V222.9" stroke-dasharray="1 4 1.5 6"/>
<path d="M1025.5 118.3V263.0" stroke-dasharray="1 9 1 10"/>
<path d="M1026.5 68.4V113.7" stroke-dasharray="1.5 5 1.5 3"/>
<path d="M1026.5 138.2V153.2" stroke-dasharray="1 4 1 4"/>
<path d="M1026.5 211.5V225.2" stroke-dasharray="1.5 3.5 1.5 6"/>
<path d="M1026.5 119.3V262.5" stroke-dasharray="1 11 1 9"/>
<path d="M1028.5 68.5V112.9" stroke-dasharray="1.5 5 1.5 6"/>
<path d="M1028.5 136.3V151.8" stroke-dasharray="1 3.5 1 6"/>
<path d="M1028.5 211.2V222.1" stroke-dasharray="1.5 5 1 6"/>
<path d="M1030.5 68.0V112.5" stroke-dasharray="1.5 3.5 1.5 3"/>
<path d="M1030.5 135.8V148.7" stroke-dasharray="1 2 1.5 3"/>
<path d="M1030.5 209.8V226.9" stroke-dasharray="1 4 1.5 3"/>
<path d="M1033.5 66.1V112.6" stroke-dasharray="1 4 1.5 6"/>
<path d="M1033.5 138.2V147.9" stroke-dasharray="1.5 3 1 4"/>
<path d="M1033.5 208.6V227.2" stroke-dasharray="1.5 2 1 4"/>
<path d="M1035.5 66.9V114.7" stroke-dasharray="1.5 2 1.5 4"/>
<path d="M1035.5 136.6V153.0" stroke-dasharray="1 4 1.5 6"/>
<path d="M1035.5 209.7V222.6" stroke-dasharray="1.5 5 1 6"/>
<path d="M1040.5 68.9V111.4" stroke-dasharray="1 4 1 4"/>
<path d="M1040.5 136.9V152.3" stroke-dasharray="1 5 1.5 3"/>
<path d="M1040.5 210.9V221.9" stroke-dasharray="1 2 1.5 6"/>
<path d="M1045.5 67.8V115.5" stroke-dasharray="1.5 3.5 1.5 4"/>
<path d="M1045.5 137.6V151.7" stroke-dasharray="1.5 3.5 1.5 3"/>
<path d="M1045.5 210.3V222.1" stroke-dasharray="1 3.5 1.5 6"/>
<path d="M1055.5 67.4V112.7" stroke-dasharray="1 3 1.5 3"/>
<path d="M1055.5 136.5V151.6" stroke-dasharray="1.5 3.5 1.5 4"/>
<path d="M1055.5 208.9V223.0" stroke-dasharray="1.5 3 1.5 6"/>
<path d="M1055.5 283.6v1.2M1055.5 286.1v1"/>
<path d="M1069.5 68.4V114.9" stroke-dasharray="1 4 1 3"/>
<path d="M1069.5 137.4V148.1" stroke-dasharray="1.5 3 1.5 3"/>
<path d="M1069.5 208.8V223.4" stroke-dasharray="1 5 1.5 4"/>
<path d="M1078.5 66.7V115.6" stroke-dasharray="1.5 3 1.5 6"/>
<path d="M1078.5 136.1V152.1" stroke-dasharray="1.5 2 1.5 6"/>
<path d="M1078.5 209.0V226.1" stroke-dasharray="1 4 1.5 6"/>
<path d="M1078.5 283.6v1.2M1078.5 286.1v1"/>
<path d="M1087.5 67.3V113.8" stroke-dasharray="1 3 1 3"/>
<path d="M1087.5 137.0V148.8" stroke-dasharray="1.5 5 1.5 6"/>
<path d="M1087.5 211.4V222.3" stroke-dasharray="1 2 1.5 6"/>
<path d="M1096.5 68.2V110.5" stroke-dasharray="1.5 3.5 1 3"/>
<path d="M1096.5 138.1V148.0" stroke-dasharray="1 3 1 3"/>
<path d="M1096.5 211.3V223.7" stroke-dasharray="1 4 1 3"/>
<path d="M1110.5 67.4V115.6" stroke-dasharray="1.5 3.5 1 6"/>
<path d="M1110.5 135.6V150.6" stroke-dasharray="1 5 1 4"/>
<path d="M1110.5 209.0V222.0" stroke-dasharray="1.5 4 1 4"/>
<path d="M1119.5 66.7V115.6" stroke-dasharray="1 3 1 4"/>
<path d="M1119.5 138.3V149.0" stroke-dasharray="1 4 1.5 3"/>
<path d="M1119.5 210.8V226.4" stroke-dasharray="1.5 5 1.5 3"/>
<path d="M1133.5 67.4V111.6" stroke-dasharray="1 2 1 3"/>
<path d="M1133.5 135.9V153.4" stroke-dasharray="1 2 1.5 4"/>
<path d="M1133.5 209.0V227.4" stroke-dasharray="1 4 1.5 4"/>
<path d="M1133.5 283.6v1.2M1133.5 286.1v1"/>
<path d="M1147.5 69.0V113.7" stroke-dasharray="1 5 1 6"/>
<path d="M1147.5 137.7V149.0" stroke-dasharray="1.5 3 1 4"/>
<path d="M1147.5 210.0V223.9" stroke-dasharray="1.5 4 1 6"/>
<path d="M1156.5 68.7V116.0" stroke-dasharray="1.5 4 1.5 4"/>
<path d="M1156.5 138.4V151.3" stroke-dasharray="1 3 1 6"/>
<path d="M1156.5 209.4V224.3" stroke-dasharray="1 3 1.5 3"/>
<path d="M1165.5 68.8V114.1" stroke-dasharray="1.5 3.5 1 4"/>
<path d="M1165.5 137.6V148.2" stroke-dasharray="1.5 5 1.5 6"/>
<path d="M1165.5 208.9V225.9" stroke-dasharray="1.5 2 1 4"/>
<path d="M1174.5 66.4V111.7" stroke-dasharray="1 5 1 6"/>
<path d="M1174.5 135.9V148.5" stroke-dasharray="1 2 1.5 3"/>
<path d="M1174.5 208.7V227.1" stroke-dasharray="1 3.5 1.5 3"/>
<path d="M1179.5 66.1V111.7" stroke-dasharray="1.5 5 1 3"/>
<path d="M1179.5 137.2V153.2" stroke-dasharray="1.5 2 1.5 6"/>
<path d="M1179.5 209.1V227.4" stroke-dasharray="1 3 1.5 6"/>
<path d="M1188.5 68.8V114.8" stroke-dasharray="1.5 4 1.5 6"/>
<path d="M1188.5 136.8V153.3" stroke-dasharray="1.5 3 1.5 6"/>
<path d="M1188.5 211.5V225.3" stroke-dasharray="1.5 5 1.5 3"/>
<path d="M1197.5 67.9V110.9" stroke-dasharray="1 3 1 4"/>
<path d="M1197.5 137.8V148.3" stroke-dasharray="1.5 4 1 3"/>
<path d="M1197.5 209.4V226.6" stroke-dasharray="1.5 5 1.5 3"/>
<path d="M1206.5 68.6V113.1" stroke-dasharray="1 4 1.5 3"/>
<path d="M1206.5 136.5V152.2" stroke-dasharray="1 3 1 6"/>
<path d="M1206.5 209.7V225.9" stroke-dasharray="1 4 1.5 6"/>
<path d="M1211.5 67.8V113.5" stroke-dasharray="1.5 5 1 4"/>
<path d="M1211.5 138.5V153.4" stroke-dasharray="1 2 1.5 3"/>
<path d="M1211.5 211.2V224.0" stroke-dasharray="1.5 2 1 4"/>
<path d="M1211.5 283.6v1.2M1211.5 286.1v1"/>
<path d="M1220.5 66.6V114.7" stroke-dasharray="1 5 1 4"/>
<path d="M1220.5 136.1V153.5" stroke-dasharray="1 4 1 6"/>
<path d="M1220.5 211.0V227.1" stroke-dasharray="1 3.5 1 4"/>
<path d="M1229.5 67.4V111.9" stroke-dasharray="1 2 1 4"/>
<path d="M1229.5 136.6V151.5" stroke-dasharray="1 3 1.5 4"/>
<path d="M1229.5 209.0V225.9" stroke-dasharray="1 2 1.5 3"/>
<path d="M1238.5 67.3V113.1" stroke-dasharray="1 2 1.5 6"/>
<path d="M1238.5 137.9V149.3" stroke-dasharray="1 3.5 1 4"/>
<path d="M1238.5 210.6V224.6" stroke-dasharray="1 4 1.5 3"/>
<path d="M1252.5 68.0V112.9" stroke-dasharray="1 3 1 4"/>
<path d="M1252.5 138.2V149.9" stroke-dasharray="1 2 1 4"/>
<path d="M1252.5 210.5V223.9" stroke-dasharray="1 5 1.5 6"/>
<path d="M1257.5 66.6V113.4" stroke-dasharray="1 2 1 6"/>
<path d="M1257.5 136.1V150.5" stroke-dasharray="1.5 4 1.5 3"/>
<path d="M1257.5 209.4V225.5" stroke-dasharray="1 2 1.5 6"/>
<path d="M1257.5 283.6v1.2M1257.5 286.1v1"/>
<path d="M1261.5 68.1V113.2" stroke-dasharray="1 4 1.5 6"/>
<path d="M1261.5 138.0V153.4" stroke-dasharray="1 2 1 4"/>
<path d="M1261.5 210.3V223.8" stroke-dasharray="1.5 2 1 6"/>
<path d="M1261.5 283.6v1.2M1261.5 286.1v1"/>
<path d="M1270.5 67.3V111.8" stroke-dasharray="1.5 3 1 4"/>
<path d="M1270.5 138.0V150.5" stroke-dasharray="1 5 1 3"/>
<path d="M1270.5 211.2V225.6" stroke-dasharray="1 2 1.5 4"/>
<path d="M1279.5 68.9V114.0" stroke-dasharray="1.5 5 1.5 6"/>
<path d="M1279.5 137.1V150.6" stroke-dasharray="1.5 3.5 1.5 3"/>
<path d="M1279.5 210.4V223.5" stroke-dasharray="1 2 1 4"/>
<path d="M1284.5 66.5V112.5" stroke-dasharray="1 3 1 3"/>
<path d="M1284.5 138.0V148.3" stroke-dasharray="1 2 1.5 6"/>
<path d="M1284.5 211.3V227.0" stroke-dasharray="1 5 1 3"/>
<path d="M1284.5 283.6v1.2M1284.5 286.1v1"/>
<path d="M1293.5 66.7V115.8" stroke-dasharray="1.5 2 1.5 4"/>
<path d="M1293.5 136.6V151.8" stroke-dasharray="1.5 3 1 6"/>
<path d="M1293.5 210.9V227.6" stroke-dasharray="1 3.5 1 3"/>
<path d="M1302.5 68.6V113.7" stroke-dasharray="1 4 1.5 3"/>
<path d="M1302.5 137.9V151.4" stroke-dasharray="1 3 1.5 4"/>
<path d="M1302.5 210.0V227.4" stroke-dasharray="1 3 1.5 4"/>
</g>
<g stroke-width="1" shape-rendering="crispEdges">
<path d="M592.5 552.5V759.6" stroke="url(#g0)"/>
<path d="M593.5 552.5V756.7" stroke="url(#g1)"/>
<path d="M595.5 552.5V753.7" stroke="url(#g2)"/>
<path d="M598.5 552.5V951.8" stroke="url(#g3)"/>
<path d="M600.5 552.5V757.6" stroke="url(#g4)"/>
<path d="M603.5 552.5V769.6" stroke="url(#g5)"/>
<path d="M605.5 552.5V952.7" stroke="url(#g6)"/>
<path d="M608.5 552.5V753.7" stroke="url(#g7)"/>
<path d="M610.5 552.5V723.7" stroke="url(#g8)"/>
<path d="M613.5 552.5V759.6" stroke="url(#g9)"/>
<path d="M615.5 552.5V756.7" stroke="url(#g10)"/>
<path d="M629.5 552.5V759.6" stroke="url(#g11)"/>
<path d="M638.5 552.5V951.8" stroke="url(#g12)"/>
<path d="M647.5 552.5V755.6" stroke="url(#g13)"/>
<path d="M656.5 552.5V754.6" stroke="url(#g14)"/>
<path d="M661.5 552.5V951.8" stroke="url(#g15)"/>
<path d="M670.5 552.5V763.7" stroke="url(#g16)"/>
<path d="M679.5 552.5V758.6" stroke="url(#g17)"/>
<path d="M693.5 552.5V841.6" stroke="url(#g18)"/>
<path d="M707.5 552.5V755.6" stroke="url(#g19)"/>
<path d="M716.5 552.5V950.8" stroke="url(#g20)"/>
<path d="M725.5 552.5V760.7" stroke="url(#g21)"/>
<path d="M739.5 552.5V952.7" stroke="url(#g22)"/>
<path d="M748.5 552.5V755.6" stroke="url(#g23)"/>
<path d="M757.5 552.5V758.6" stroke="url(#g24)"/>
<path d="M771.5 552.5V951.8" stroke="url(#g25)"/>
<path d="M780.5 552.5V755.6" stroke="url(#g26)"/>
<path d="M789.5 552.5V760.7" stroke="url(#g27)"/>
<path d="M798.5 552.5V951.8" stroke="url(#g28)"/>
<path d="M812.5 552.5V756.7" stroke="url(#g29)"/>
<path d="M821.5 552.5V950.8" stroke="url(#g30)"/>
<path d="M830.5 552.5V758.6" stroke="url(#g31)"/>
<path d="M839.5 552.5V755.6" stroke="url(#g32)"/>
<path d="M844.5 552.5V950.8" stroke="url(#g33)"/>
<path d="M853.5 552.5V757.6" stroke="url(#g34)"/>
<path d="M862.5 552.5V755.6" stroke="url(#g35)"/>
<path d="M876.5 552.5V755.6" stroke="url(#g36)"/>
</g>
<clipPath id="c4"><rect x="159.5" y="552.5" width="361" height="409"/></clipPath>
<g stroke="#1f77b4" stroke-width="3.4" stroke-linecap="round" clip-path="url(#c4)">
<path d="M150 562.5H429.3"/><path d="M429.8 762.5H530"/>
</g>
<path d="M1024 552.5H1269.3V556.6Q1269.3 557.9 1267.5 557.9L1150 558.4 1024 558.9Z" fill="#ff7f0e"/>
<rect x="1269.3" y="552.5" width="8.6" height="4.5" fill="#ffbf86"/>
<rect x="1303.1" y="552.5" width="9" height="4.5" fill="#ff9f4a"/>
<rect x="1316" y="552.5" width="16.9" height="4.5" fill="#ff9f4a"/>
<rect x="1324.1" y="552.5" width="0.7" height="4.5" fill="#ff8f2c"/>
<rect x="1373.1" y="552.5" width="8.8" height="4.5" fill="#ffbf86"/>
<rect x="1216.4" y="559.3" width="162.2" height="25.3" rx="2.8" fill="#fff" fill-opacity="0.8" stroke="#ccc" stroke-width="1.1"/>
<rect x="1231.1" y="567.1" width="8.9" height="8.9" fill="#ffbf86"/>
<rect x="466.5" y="65.5" width="21.0" height="409.0" fill="url(#pl)"/>
<rect x="898.5" y="65.5" width="21.0" height="409.0" fill="url(#pl)"/>
<rect x="1331.5" y="429.06" width="20.0" height="45.74" fill="rgb(228, 26, 28)"/>
<rect x="1331.5" y="383.61" width="20.0" height="45.74" fill="rgb(55, 126, 184)"/>
<rect x="1331.5" y="338.17" width="20.0" height="45.74" fill="rgb(77, 175, 74)"/>
<rect x="1331.5" y="292.72" width="20.0" height="45.74" fill="rgb(152, 78, 163)"/>
<rect x="1331.5" y="247.28" width="20.0" height="45.74" fill="rgb(255, 127, 0)"/>
<rect x="1331.5" y="201.83" width="20.0" height="45.74" fill="rgb(255, 255, 51)"/>
<rect x="1331.5" y="156.39" width="20.0" height="45.74" fill="rgb(166, 86, 40)"/>
<rect x="1331.5" y="110.94" width="20.0" height="45.74" fill="rgb(247, 129, 191)"/>
<rect x="1331.5" y="65.50" width="20.0" height="45.74" fill="rgb(153, 153, 153)"/>
<rect x="898.5" y="552.5" width="21.0" height="409.0" fill="url(#pl)"/>
<g fill="none" stroke="#000" stroke-width="1.1">
<rect x="159.5" y="65.5" width="289.0" height="409.0"/>
<rect x="591.5" y="65.5" width="289.0" height="409.0"/>
<rect x="1023.5" y="65.5" width="290.0" height="409.0"/>
<rect x="159.5" y="552.5" width="361.0" height="409.0"/>
<rect x="591.5" y="552.5" width="289.0" height="409.0"/>
<rect x="1023.5" y="552.5" width="362.0" height="409.0"/>
<rect x="466.5" y="65.5" width="21.0" height="409.0"/>
<rect x="898.5" y="65.5" width="21.0" height="409.0"/>
<rect x="1331.5" y="65.5" width="20.0" height="409.0"/>
<rect x="898.5" y="552.5" width="21.0" height="409.0"/>
</g>
<text x="141.13" y="71.00" font-size="14.3" textLength="8.14" lengthAdjust="spacingAndGlyphs">0</text>
<text x="122.14" y="122.00" font-size="14.3" textLength="25.96" lengthAdjust="spacingAndGlyphs">250</text>
<text x="122.36" y="172.00" font-size="14.3" textLength="25.74" lengthAdjust="spacingAndGlyphs">500</text>
<text x="122.26" y="223.00" font-size="14.3" textLength="25.85" lengthAdjust="spacingAndGlyphs">750</text>
<text x="113.71" y="274.00" font-size="14.3" textLength="34.70" lengthAdjust="spacingAndGlyphs">1000</text>
<text x="113.71" y="324.00" font-size="14.3" textLength="34.70" lengthAdjust="spacingAndGlyphs">1250</text>
<text x="113.71" y="375.00" font-size="14.3" textLength="34.70" lengthAdjust="spacingAndGlyphs">1500</text>
<text x="113.71" y="426.00" font-size="14.3" textLength="34.70" lengthAdjust="spacingAndGlyphs">1750</text>
<text x="113.60" y="476.00" font-size="14.3" textLength="34.81" lengthAdjust="spacingAndGlyphs">2000</text>
<text x="573.13" y="71.00" font-size="14.3" textLength="8.14" lengthAdjust="spacingAndGlyphs">0</text>
<text x="554.94" y="122.00" font-size="14.3" textLength="25.96" lengthAdjust="spacingAndGlyphs">250</text>
<text x="555.16" y="172.00" font-size="14.3" textLength="25.74" lengthAdjust="spacingAndGlyphs">500</text>
<text x="555.06" y="223.00" font-size="14.3" textLength="25.85" lengthAdjust="spacingAndGlyphs">750</text>
<text x="546.21" y="274.00" font-size="14.3" textLength="34.70" lengthAdjust="spacingAndGlyphs">1000</text>
<text x="546.21" y="324.00" font-size="14.3" textLength="34.70" lengthAdjust="spacingAndGlyphs">1250</text>
<text x="546.21" y="375.00" font-size="14.3" textLength="34.70" lengthAdjust="spacingAndGlyphs">1500</text>
<text x="546.21" y="426.00" font-size="14.3" textLength="34.70" lengthAdjust="spacingAndGlyphs">1750</text>
<text x="546.10" y="476.00" font-size="14.3" textLength="34.81" lengthAdjust="spacingAndGlyphs">2000</text>
<text x="1006.33" y="71.00" font-size="14.3" textLength="8.14" lengthAdjust="spacingAndGlyphs">0</text>
<text x="986.94" y="122.00" font-size="14.3" textLength="25.96" lengthAdjust="spacingAndGlyphs">250</text>
<text x="987.16" y="172.00" font-size="14.3" textLength="25.74" lengthAdjust="spacingAndGlyphs">500</text>
<text x="987.06" y="223.00" font-size="14.3" textLength="25.85" lengthAdjust="spacingAndGlyphs">750</text>
<text x="978.21" y="274.00" font-size="14.3" textLength="34.70" lengthAdjust="spacingAndGlyphs">1000</text>
<text x="978.21" y="324.00" font-size="14.3" textLength="34.70" lengthAdjust="spacingAndGlyphs">1250</text>
<text x="978.21" y="375.00" font-size="14.3" textLength="34.70" lengthAdjust="spacingAndGlyphs">1500</text>
<text x="978.21" y="426.00" font-size="14.3" textLength="34.70" lengthAdjust="spacingAndGlyphs">1750</text>
<text x="978.10" y="476.00" font-size="14.3" textLength="34.81" lengthAdjust="spacingAndGlyphs">2000</text>
<text x="573.13" y="558.00" font-size="14.3" textLength="8.14" lengthAdjust="spacingAndGlyphs">0</text>
<text x="554.94" y="608.00" font-size="14.3" textLength="25.96" lengthAdjust="spacingAndGlyphs">250</text>
<text x="555.16" y="659.00" font-size="14.3" textLength="25.74" lengthAdjust="spacingAndGlyphs">500</text>
<text x="555.06" y="710.00" font-size="14.3" textLength="25.85" lengthAdjust="spacingAndGlyphs">750</text>
<text x="546.21" y="760.00" font-size="14.3" textLength="34.70" lengthAdjust="spacingAndGlyphs">1000</text>
<text x="546.21" y="811.00" font-size="14.3" textLength="34.70" lengthAdjust="spacingAndGlyphs">1250</text>
<text x="546.21" y="862.00" font-size="14.3" textLength="34.70" lengthAdjust="spacingAndGlyphs">1500</text>
<text x="546.21" y="912.00" font-size="14.3" textLength="34.70" lengthAdjust="spacingAndGlyphs">1750</text>
<text x="546.10" y="963.00" font-size="14.3" textLength="34.81" lengthAdjust="spacingAndGlyphs">2000</text>
<text x="1006.33" y="558.00" font-size="14.3" textLength="8.14" lengthAdjust="spacingAndGlyphs">0</text>
<text x="986.94" y="608.00" font-size="14.3" textLength="25.96" lengthAdjust="spacingAndGlyphs">250</text>
<text x="987.16" y="659.00" font-size="14.3" textLength="25.74" lengthAdjust="spacingAndGlyphs">500</text>
<text x="987.06" y="710.00" font-size="14.3" textLength="25.85" lengthAdjust="spacingAndGlyphs">750</text>
<text x="978.21" y="760.00" font-size="14.3" textLength="34.70" lengthAdjust="spacingAndGlyphs">1000</text>
<text x="978.21" y="811.00" font-size="14.3" textLength="34.70" lengthAdjust="spacingAndGlyphs">1250</text>
<text x="978.21" y="862.00" font-size="14.3" textLength="34.70" lengthAdjust="spacingAndGlyphs">1500</text>
<text x="978.21" y="912.00" font-size="14.3" textLength="34.70" lengthAdjust="spacingAndGlyphs">1750</text>
<text x="978.10" y="963.00" font-size="14.3" textLength="34.81" lengthAdjust="spacingAndGlyphs">2000</text>
<text x="198.46" y="495.00" font-size="14.3" textLength="34.81" lengthAdjust="spacingAndGlyphs">2020</text>
<text x="291.46" y="495.00" font-size="14.3" textLength="34.50" lengthAdjust="spacingAndGlyphs">2022</text>
<text x="385.46" y="495.00" font-size="14.3" textLength="34.79" lengthAdjust="spacingAndGlyphs">2024</text>
<text x="630.46" y="495.00" font-size="14.3" textLength="34.81" lengthAdjust="spacingAndGlyphs">2020</text>
<text x="723.96" y="495.00" font-size="14.3" textLength="34.50" lengthAdjust="spacingAndGlyphs">2022</text>
<text x="817.46" y="495.00" font-size="14.3" textLength="34.79" lengthAdjust="spacingAndGlyphs">2024</text>
<text x="1063.56" y="495.00" font-size="14.3" textLength="34.81" lengthAdjust="spacingAndGlyphs">2020</text>
<text x="1156.46" y="495.00" font-size="14.3" textLength="34.50" lengthAdjust="spacingAndGlyphs">2022</text>
<text x="1250.46" y="495.00" font-size="14.3" textLength="34.79" lengthAdjust="spacingAndGlyphs">2024</text>
<text x="154.66" y="982.00" font-size="14.3" textLength="34.88" lengthAdjust="spacingAndGlyphs">2019</text>
<text x="212.86" y="982.00" font-size="14.3" textLength="34.81" lengthAdjust="spacingAndGlyphs">2020</text>
<text x="271.36" y="982.00" font-size="14.3" textLength="34.59" lengthAdjust="spacingAndGlyphs">2021</text>
<text x="329.66" y="982.00" font-size="14.3" textLength="34.50" lengthAdjust="spacingAndGlyphs">2022</text>
<text x="387.96" y="982.00" font-size="14.3" textLength="34.69" lengthAdjust="spacingAndGlyphs">2023</text>
<text x="446.26" y="982.00" font-size="14.3" textLength="34.79" lengthAdjust="spacingAndGlyphs">2024</text>
<text x="630.46" y="982.00" font-size="14.3" textLength="34.81" lengthAdjust="spacingAndGlyphs">2020</text>
<text x="723.96" y="982.00" font-size="14.3" textLength="34.50" lengthAdjust="spacingAndGlyphs">2022</text>
<text x="817.46" y="982.00" font-size="14.3" textLength="34.79" lengthAdjust="spacingAndGlyphs">2024</text>
<text x="1077.26" y="982.00" font-size="14.3" textLength="34.81" lengthAdjust="spacingAndGlyphs">2020</text>
<text x="1194.16" y="982.00" font-size="14.3" textLength="34.50" lengthAdjust="spacingAndGlyphs">2022</text>
<text x="1311.56" y="982.00" font-size="14.3" textLength="34.79" lengthAdjust="spacingAndGlyphs">2024</text>
<text x="49.75" y="567.00" font-size="14.3" textLength="99.29" lengthAdjust="spacingAndGlyphs">Delayed Mode</text>
<text x="15.66" y="767.00" font-size="14.3" textLength="133.18" lengthAdjust="spacingAndGlyphs">Real Time Adjusted</text>
<text x="80.87" y="966.00" font-size="14.3" textLength="68.16" lengthAdjust="spacingAndGlyphs">Real Time</text>
<text x="496.49" y="90.00" font-size="14.3" textLength="16.60" lengthAdjust="spacingAndGlyphs">35</text>
<text x="496.48" y="146.00" font-size="14.3" textLength="16.86" lengthAdjust="spacingAndGlyphs">30</text>
<text x="496.26" y="202.00" font-size="14.3" textLength="16.84" lengthAdjust="spacingAndGlyphs">25</text>
<text x="496.24" y="258.00" font-size="14.3" textLength="17.11" lengthAdjust="spacingAndGlyphs">20</text>
<text x="496.38" y="314.00" font-size="14.3" textLength="16.71" lengthAdjust="spacingAndGlyphs">15</text>
<text x="496.36" y="370.00" font-size="14.3" textLength="16.98" lengthAdjust="spacingAndGlyphs">10</text>
<text x="496.52" y="426.00" font-size="14.3" textLength="7.68" lengthAdjust="spacingAndGlyphs">5</text>
<text x="929.39" y="89.00" font-size="14.3" textLength="16.60" lengthAdjust="spacingAndGlyphs">35</text>
<text x="929.38" y="148.00" font-size="14.3" textLength="16.86" lengthAdjust="spacingAndGlyphs">30</text>
<text x="929.16" y="207.00" font-size="14.3" textLength="16.84" lengthAdjust="spacingAndGlyphs">25</text>
<text x="929.14" y="265.00" font-size="14.3" textLength="17.11" lengthAdjust="spacingAndGlyphs">20</text>
<text x="929.28" y="324.00" font-size="14.3" textLength="16.71" lengthAdjust="spacingAndGlyphs">15</text>
<text x="929.26" y="383.00" font-size="14.3" textLength="16.98" lengthAdjust="spacingAndGlyphs">10</text>
<text x="929.42" y="441.00" font-size="14.3" textLength="7.68" lengthAdjust="spacingAndGlyphs">5</text>
<text x="1361.84" y="480.00" font-size="14.3" textLength="8.14" lengthAdjust="spacingAndGlyphs">0</text>
<text x="1361.96" y="429.00" font-size="14.3" textLength="7.78" lengthAdjust="spacingAndGlyphs">1</text>
<text x="1361.81" y="378.00" font-size="14.3" textLength="7.85" lengthAdjust="spacingAndGlyphs">2</text>
<text x="1362.02" y="327.00" font-size="14.3" textLength="7.82" lengthAdjust="spacingAndGlyphs">3</text>
<text x="1361.84" y="275.00" font-size="14.3" textLength="8.14" lengthAdjust="spacingAndGlyphs">4</text>
<text x="1362.02" y="224.00" font-size="14.3" textLength="7.68" lengthAdjust="spacingAndGlyphs">5</text>
<text x="1361.70" y="173.00" font-size="14.3" textLength="8.43" lengthAdjust="spacingAndGlyphs">6</text>
<text x="1361.91" y="122.00" font-size="14.3" textLength="7.97" lengthAdjust="spacingAndGlyphs">7</text>
<text x="1361.80" y="71.00" font-size="14.3" textLength="8.23" lengthAdjust="spacingAndGlyphs">8</text>
<text x="929.07" y="567.00" font-size="14.3" textLength="29.88" lengthAdjust="spacingAndGlyphs">36.5</text>
<text x="929.07" y="657.00" font-size="14.3" textLength="30.14" lengthAdjust="spacingAndGlyphs">36.0</text>
<text x="929.07" y="747.00" font-size="14.3" textLength="29.88" lengthAdjust="spacingAndGlyphs">35.5</text>
<text x="929.07" y="836.00" font-size="14.3" textLength="30.14" lengthAdjust="spacingAndGlyphs">35.0</text>
<text x="929.07" y="926.00" font-size="14.3" textLength="29.88" lengthAdjust="spacingAndGlyphs">34.5</text>
<path d="M159.5 65.5h-5.4M159.5 116.5h-5.4M159.5 167.5h-5.4M159.5 217.5h-5.4M159.5 268.5h-5.4M159.5 319.5h-5.4M159.5 369.5h-5.4M159.5 420.5h-5.4M159.5 471.5h-5.4M591.5 65.5h-5.4M591.5 116.5h-5.4M591.5 167.5h-5.4M591.5 217.5h-5.4M591.5 268.5h-5.4M591.5 319.5h-5.4M591.5 369.5h-5.4M591.5 420.5h-5.4M591.5 471.5h-5.4M1023.5 65.5h-5.4M1023.5 116.5h-5.4M1023.5 167.5h-5.4M1023.5 217.5h-5.4M1023.5 268.5h-5.4M1023.5 319.5h-5.4M1023.5 369.5h-5.4M1023.5 420.5h-5.4M1023.5 471.5h-5.4M591.5 552.5h-5.4M591.5 603.5h-5.4M591.5 653.5h-5.4M591.5 704.5h-5.4M591.5 755.5h-5.4M591.5 805.5h-5.4M591.5 856.5h-5.4M591.5 907.5h-5.4M591.5 958.5h-5.4M1023.5 552.5h-5.4M1023.5 603.5h-5.4M1023.5 653.5h-5.4M1023.5 704.5h-5.4M1023.5 755.5h-5.4M1023.5 805.5h-5.4M1023.5 856.5h-5.4M1023.5 907.5h-5.4M1023.5 958.5h-5.4M216.5 474.5v5.4M309.5 474.5v5.4M403.5 474.5v5.4M648.5 474.5v5.4M742.5 474.5v5.4M835.5 474.5v5.4M1081.5 474.5v5.4M1174.5 474.5v5.4M1268.5 474.5v5.4M172.5 961.5v5.4M230.5 961.5v5.4M289.5 961.5v5.4M347.5 961.5v5.4M406.5 961.5v5.4M464.5 961.5v5.4M648.5 961.5v5.4M742.5 961.5v5.4M835.5 961.5v5.4M1095.5 961.5v5.4M1212.5 961.5v5.4M1329.5 961.5v5.4M159.5 562.5h-5.4M159.5 762.5h-5.4M159.5 961.5h-5.4M487.5 84.5h5.4M487.5 140.5h5.4M487.5 196.5h5.4M487.5 252.5h5.4M487.5 308.5h5.4M487.5 364.5h5.4M487.5 420.5h5.4M919.5 84.5h5.4M919.5 142.5h5.4M919.5 201.5h5.4M919.5 260.5h5.4M919.5 318.5h5.4M919.5 377.5h5.4M919.5 436.5h5.4M1351.5 474.5h5.4M1351.5 423.5h5.4M1351.5 372.5h5.4M1351.5 321.5h5.4M1351.5 270.5h5.4M1351.5 219.5h5.4M1351.5 168.5h5.4M1351.5 117.5h5.4M1351.5 65.5h5.4M919.5 562.5h5.4M919.5 651.5h5.4M919.5 741.5h5.4M919.5 831.5h5.4M919.5 920.5h5.4" stroke="#000" stroke-width="1.1" fill="none"/>
<text x="491.63" y="31.70" font-size="16.9" textLength="414.40" lengthAdjust="spacingAndGlyphs">6902907, 576 profiles, 2018-10-10 to 2024-12-18</text>
<text x="282.46" y="57.20" font-size="16.9" textLength="41.78" lengthAdjust="spacingAndGlyphs">PSAL</text>
<text x="667.58" y="57.20" font-size="16.9" textLength="134.90" lengthAdjust="spacingAndGlyphs">PSAL_ADJUSTED</text>
<text x="1083.68" y="57.20" font-size="16.9" textLength="167.92" lengthAdjust="spacingAndGlyphs">PSAL_ADJUSTED_QC</text>
<text x="235.37" y="525.90" font-size="16.9" textLength="201.70" lengthAdjust="spacingAndGlyphs">Mode. Blue=D, Red=RT,</text>
<text x="231.55" y="543.90" font-size="16.9" textLength="213.77" lengthAdjust="spacingAndGlyphs">Gray=Real Time Adjusted</text>
<text x="609.64" y="525.90" font-size="16.9" textLength="251.64" lengthAdjust="spacingAndGlyphs">PSAL_ADJUSTED_BGCArgoPlus</text>
<text x="649.57" y="543.90" font-size="16.9" textLength="170.18" lengthAdjust="spacingAndGlyphs">Processing: F_S_Inv_</text>
<text x="1129.82" y="543.90" font-size="16.9" textLength="148.41" lengthAdjust="spacingAndGlyphs">Outliers Removed</text>
<text x="1259.86" y="575.80" font-size="14.3" textLength="111.75" lengthAdjust="spacingAndGlyphs">surface removal</text>
</svg>
</body></html>
